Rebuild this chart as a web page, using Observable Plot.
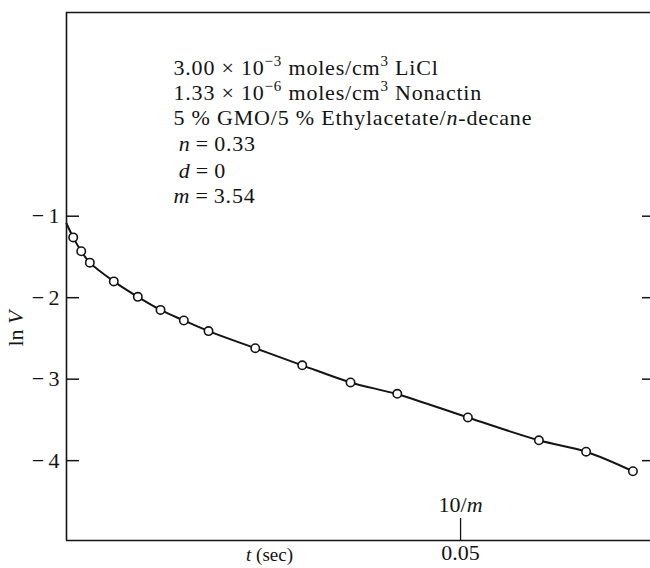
<!DOCTYPE html>
<html><head><meta charset="utf-8">
<script src="https://cdn.jsdelivr.net/npm/d3@7"></script>
<script src="https://cdn.jsdelivr.net/npm/@observablehq/plot@0.6"></script>
<style>
body{margin:0;background:#fff}
svg{font-family:"Liberation Serif","Times New Roman",serif}
</style>
</head><body><div id="chart"></div>
<script>
// measured points (t in sec, ln V)
const tSec = [0.00085,0.00187,0.00296,0.0060,0.00905,0.01193,0.01489,0.01802,0.02395,0.02991,0.03604,0.04197,0.05093,0.05994,0.06593,0.07187];
const lnV  = [-1.26,-1.43,-1.57,-1.80,-1.99,-2.15,-2.28,-2.41,-2.62,-2.83,-3.04,-3.18,-3.47,-3.75,-3.89,-4.13];
// fitted curve
const fitT   = [0,0.00085,0.00187,0.00296,0.0060,0.00905,0.01193,0.01489,0.01802,0.02395,0.02991,0.03604,0.04197,0.05093,0.05994,0.06593,0.07187];
const fitLnV = [-1.09,-1.26,-1.43,-1.57,-1.80,-1.99,-2.15,-2.28,-2.41,-2.62,-2.83,-3.04,-3.185,-3.47,-3.75,-3.89,-4.13];
// axes
const xDomain = [0, 0.0741];
const yDomain = [-4.98, 1.5];
const yTicks = [-1,-2,-3,-4];
const xTicks = [0.05];
const xTickLabels = ["0.05"];
const xMarkLabel = ["10/*m*"];
const xTitle = ["*t* (sec)"];
const yTitle = ["ln *V*"];
// annotation
const annLines = [
  "3.00 × 10^−3^ moles/cm^3^ LiCl",
  "1.33 × 10^−6^ moles/cm^3^ Nonactin",
  "5 % GMO/5 % Ethylacetate/*n*-decane",
  "\u2009*n*\u2009=\u20090.33",
  "\u2009*d*\u2009=\u20090",
  "*m*\u2009=\u20093.54"
];

const points = tSec.map((t,i)=>({t, v: lnV[i]}));
const fit = fitT.map((t,i)=>({t, v: fitLnV[i]}));

const W = 650, H = 568, mL = 66, mR = 0, mT = 12, mB = 28;
const innerW = W - mL - mR, innerH = H - mT - mB;
const ink = "#141414";

const plot = Plot.plot({
  width: W, height: H,
  marginLeft: mL, marginRight: mR, marginTop: mT, marginBottom: mB,
  style: {fontFamily: '"Liberation Serif", serif', fontSize: "22px", color: ink, background: "#fff"},
  x: {domain: xDomain},
  y: {domain: yDomain},
  marks: [
    Plot.ruleX([xDomain[0]], {stroke: ink, strokeWidth: 1.6}),
    Plot.ruleY([yDomain[1]], {stroke: ink, strokeWidth: 1.6}),
    Plot.ruleY([yDomain[0]], {stroke: ink, strokeWidth: 1.6}),
    Plot.tickY(yTicks, {y: d => d, insetRight: innerW - 13, stroke: ink, strokeWidth: 1.5}),
    Plot.tickY(yTicks, {y: d => d, insetLeft: innerW - 8, stroke: ink, strokeWidth: 1.5}),
    Plot.axisY({ticks: yTicks, tickSize: 0, tickPadding: 7, label: null, tickFormat: d => "−\u2009" + Math.abs(d)}),
    Plot.axisX({ticks: xTicks, tickSize: 0, tickPadding: 4, label: null, tickFormat: (d,i) => xTickLabels[i]}),
    Plot.tickX(xTicks, {x: d => d, insetTop: innerH - 22, stroke: ink, strokeWidth: 1.3}),
    Plot.text(xTicks, {x: d => d, frameAnchor: "bottom", dy: -36, text: (d,i) => xMarkLabel[i], lineAnchor: "middle"}),
    Plot.text(xTitle, {frameAnchor: "bottom-left", dx: 203, dy: 14, text: d => d, textAnchor: "middle", lineAnchor: "middle", fontSize: 19}),
    Plot.text(yTitle, {frameAnchor: "left", dx: -51, dy: 70, rotate: -90, text: d => d, lineAnchor: "middle"}),
    Plot.text(annLines, {frameAnchor: "top-left", dx: 107, text: d => d, textAnchor: "start", lineAnchor: "middle"}),
    Plot.line(fit, {x: "t", y: "v", stroke: ink, strokeWidth: 2, curve: "catmull-rom"}),
    Plot.dot(points, {x: "t", y: "v", r: 4.2, fill: "white", stroke: ink, strokeWidth: 1.6})
  ]
});

const svgns = "http://www.w3.org/2000/svg";
document.getElementById("chart").appendChild(plot);

function rich(el) {
  const s = el.textContent;
  if (!/[\^*]/.test(s)) return;
  const parts = s.split(/(\^[^^]*\^|\*[^*]*\*)/).filter(p => p !== "");
  el.textContent = "";
  let shift = 0;
  for (const p of parts) {
    const ts = document.createElementNS(svgns, "tspan");
    if (p.startsWith("^")) {
      ts.textContent = p.slice(1, -1);
      ts.setAttribute("font-size", "15");
      ts.setAttribute("dy", -9 - shift); shift = -9;
    } else if (p.startsWith("*")) {
      ts.textContent = p.slice(1, -1);
      ts.setAttribute("font-style", "italic");
      ts.setAttribute("dy", -shift); shift = 0;
    } else {
      ts.textContent = p;
      ts.setAttribute("dy", -shift); shift = 0;
    }
    el.appendChild(ts);
  }
}
// annotation line offsets from the top of the frame
const annTop = [55, 80, 105, 131, 158, 183];
plot.querySelectorAll("text").forEach(el => {
  const idx = annLines.indexOf(el.textContent);
  if (idx >= 0) {
    const tr = el.getAttribute("transform") || "";
    el.setAttribute("transform", tr + ` translate(0,${annTop[idx]})`);
    el.setAttribute("letter-spacing", "0.8");
  }
  rich(el);
});
</script>
</body></html>
